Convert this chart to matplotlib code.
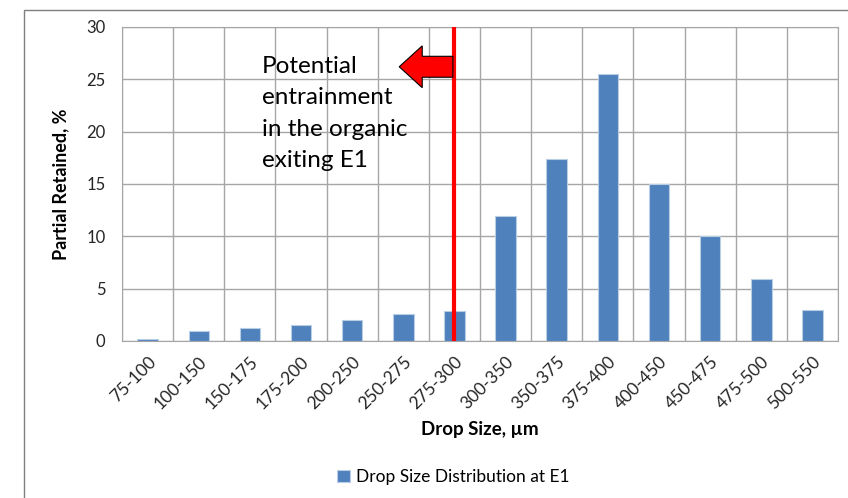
import numpy as np
import matplotlib.pyplot as plt
from matplotlib.patches import FancyArrow, Rectangle

plt.rcParams['font.family'] = ['Lato', 'DejaVu Sans']

size_bins = ["75-100", "100-150", "150-175", "175-200", "200-250", "250-275",
             "275-300", "300-350", "350-375", "375-400", "400-450", "450-475",
             "475-500", "500-550"]
retained = [0.15, 1.0, 1.2, 1.5, 2.0, 2.6, 2.9, 11.9, 17.4, 25.5, 15.0, 10.0, 5.9, 3.0]
cutoff_bin = 6   # "275-300"

fig = plt.figure(figsize=(8.48, 4.98), dpi=100)
ax = fig.add_axes([0.1439, 0.3153, 0.8443, 0.6305])

# outer chart frame
fig.patches.append(Rectangle((24/848, -0.1), 1.0, 1 - 10/498 + 0.1,
                             transform=fig.transFigure, fill=False,
                             edgecolor='#7f7f7f', linewidth=1.0))

x = np.arange(len(size_bins))
ax.bar(x, retained, width=0.4, color='#4F81BD', edgecolor='#b9cde5',
       linewidth=0.8, zorder=3, label='Drop Size Distribution at E1')

ax.set_xlim(-0.5, len(size_bins) - 0.5)
ax.set_ylim(0, 30)
ax.set_yticks(range(0, 31, 5))
ax.set_xticks(x)
ax.set_xticklabels(size_bins, rotation=45, ha='right', rotation_mode='anchor',
                   fontsize=12.5, color='#262626')
ax.tick_params(axis='x', length=0, pad=9)
ax.tick_params(axis='y', length=0, pad=12, labelsize=12, labelcolor='#262626')

# grid on category boundaries
ax.set_xticks(np.arange(-0.5, len(size_bins)), minor=True)
ax.tick_params(axis='x', which='minor', length=0)
ax.grid(True, which='minor', axis='x', color='#a6a6a6', linewidth=1.0, zorder=0)
ax.grid(True, which='major', axis='y', color='#a6a6a6', linewidth=1.0, zorder=0)
for s in ax.spines.values():
    s.set_color('#a6a6a6')

ax.set_xlabel('Drop Size, µm', fontsize=13.5, fontweight='bold', labelpad=6)
ax.set_ylabel('Partial Retained, %', fontsize=13, fontweight='bold', labelpad=12)

# cut-off line and annotation
ax.axvline(cutoff_bin, color='red', linewidth=3, zorder=4)
ax.add_patch(FancyArrow(cutoff_bin - 0.03, 26.2, -1.05, 0, width=2.0,
                        head_width=4.0, head_length=0.45,
                        length_includes_head=True, facecolor='red',
                        edgecolor='black', linewidth=0.8, zorder=5))
ax.text(2.23, 27.2, 'Potential\nentrainment\nin the organic\nexiting E1',
        fontsize=17.5, va='top', ha='left', linespacing=1.6, color='black', zorder=6)

fig.legend(loc='lower center', bbox_to_anchor=(0.535, -0.005), frameon=False,
           fontsize=12.5, handlelength=0.7, handleheight=0.7, handletextpad=0.4)

fig.savefig('out.png', dpi=100)
